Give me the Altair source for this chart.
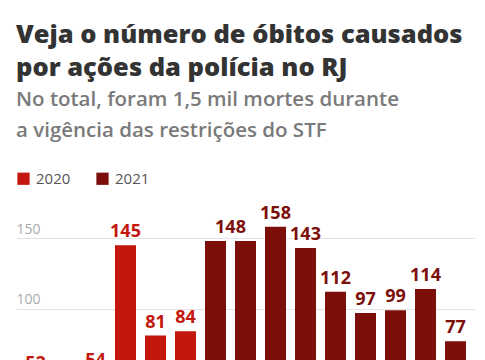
import altair as alt
import pandas as pd

months = ["jul 2020", "ago 2020", "set 2020", "out 2020", "nov 2020", "dez 2020",
          "jan 2021", "fev 2021", "mar 2021", "abr 2021", "mai 2021", "jun 2021",
          "jul 2021", "ago 2021", "set 2021"]
years = ["2020"] * 6 + ["2021"] * 9
deaths = [52, 34, 54, 145, 81, 84, 148, 148, 158, 143, 112, 97, 99, 114, 77]

df = pd.DataFrame({"mes": months, "ano": years, "obitos": deaths})

# the chart shows a single "148" label shared by the two equal bars
shared_label = "jan 2021"
hidden_label = "fev 2021"

FONT = "Open Sans"
color_scale = alt.Scale(domain=["2020", "2021"], range=["#c3170d", "#7d0f0a"])

x = alt.X("mes:N", sort=months, title=None,
          scale=alt.Scale(paddingInner=0.3, paddingOuter=0.3),
          axis=alt.Axis(labelAngle=0, labelColor="#999", labelFontSize=12,
                        ticks=False, domainColor="#ccc",
                        labelExpr="split(datum.label, ' ')[0]"))
y = alt.Y("obitos:Q", title=None,
          scale=alt.Scale(domain=[0, 160], nice=False),
          axis=alt.Axis(values=[0, 50, 100, 150], labelAlign="left",
                        labelBaseline="bottom", labelPadding=0, labelOffset=-2,
                        labelColor="#aaa", labelFontSize=14, ticks=False,
                        domain=False, gridColor="#e3e3e3"))

base = alt.Chart(df)

bars = base.mark_bar().encode(
    x=x, y=y,
    color=alt.Color("ano:N", scale=color_scale, title=None,
                    legend=alt.Legend(orient="none", legendX=0, legendY=-53,
                                      direction="horizontal", symbolType="square",
                                      symbolSize=150, symbolStrokeWidth=0,
                                      labelFontSize=15, labelColor="#555",
                                      labelOffset=5, columnPadding=24)),
)

text_enc = dict(x=x, y=y, text=alt.Text("obitos:Q"),
                color=alt.Color("ano:N", scale=color_scale, legend=None))

labels = base.transform_filter(
    (alt.datum.mes != shared_label) & (alt.datum.mes != hidden_label)
).mark_text(baseline="bottom", dy=-4, fontSize=18, fontWeight="bold").encode(**text_enc)

label_shared = base.transform_filter(alt.datum.mes == shared_label).mark_text(
    baseline="bottom", dy=-4, dx=15, fontSize=18, fontWeight="bold").encode(**text_enc)

chart = alt.layer(bars, labels, label_shared).properties(
    width=459, height=226,
    padding={"left": 8, "top": 15, "right": 2, "bottom": 10},
    title=alt.TitleParams(
        text=["Veja o número de óbitos causados", "por ações da polícia no RJ"],
        subtitle=["No total, foram 1,5 mil mortes durante",
                  "a vigência das restrições do STF"],
        anchor="start", frame="group", font=FONT, fontSize=25.5,
        fontWeight=800, color="#333", lineHeight=33,
        subtitleFont=FONT, subtitleFontSize=20.5, subtitleFontWeight=600,
        subtitleColor="#7a7a7a", subtitleLineHeight=31, subtitlePadding=8,
        offset=30),
).configure(font=FONT).configure_view(stroke=None)

chart.save("out.html", embed_options={"renderer": "svg", "actions": False})
